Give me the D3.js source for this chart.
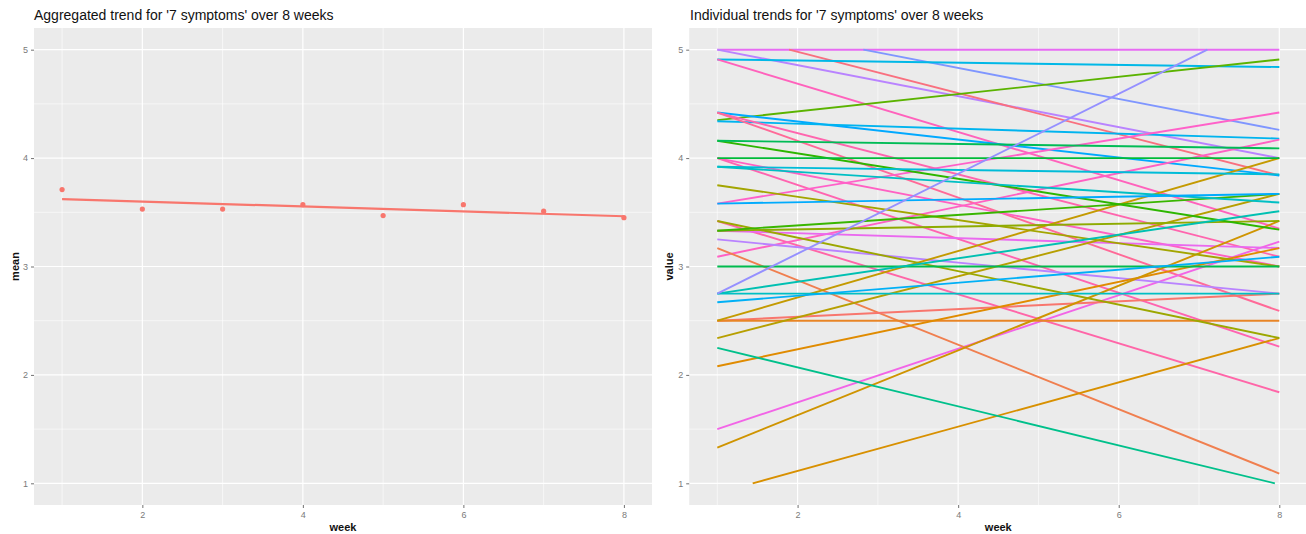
<!DOCTYPE html>
<html>
<head>
<meta charset="utf-8">
<script src="https://cdn.jsdelivr.net/npm/d3@7"></script>
<style>
  html, body { margin: 0; padding: 0; background: #ffffff; }
  svg { display: block; font-family: "Liberation Sans", Arial, sans-serif; }
</style>
</head>
<body>
<svg id="chart" width="1306" height="534"></svg>
<script>
// ---------------- DATA ----------------
const weeks = [1, 2, 3, 4, 5, 6, 7, 8];
const meanValues = [3.71, 3.53, 3.53, 3.57, 3.47, 3.57, 3.51, 3.45];

const xTicks = [2, 4, 6, 8];
const yTicks = [1, 2, 3, 4, 5];

const leftTitle = "Aggregated trend for '7 symptoms' over 8 weeks";
const rightTitle = "Individual trends for '7 symptoms' over 8 weeks";

// fitted value of each individual's trend at week 1 and week 8
const individualStart = [5.00, 5.00, 5.17, 5.26, 4.91, 4.91, 4.35, 4.42, 4.34, 4.42,
                         4.42, 4.00, 4.00, 3.42, 3.58, 3.09, 1.50, 3.33, 3.25, 3.17,
                         2.50, 2.50, 2.08, 0.91, 1.33, 2.34, 2.50, 3.75, 3.42, 3.33,
                         3.33, 4.16, 4.16, 4.00, 3.00, 3.92, 3.92, 3.58, 2.75, 2.75,
                         2.67, 2.75, 2.25];
const individualEnd   = [5.00, 4.00, 3.84, 4.26, 4.84, 3.35, 4.91, 3.84, 4.18, 3.09,
                         2.59, 3.00, 2.26, 1.84, 4.42, 4.17, 3.23, 3.17, 2.75, 1.09,
                         2.75, 2.50, 3.17, 2.34, 3.42, 3.67, 4.00, 3.00, 2.34, 3.42,
                         3.67, 3.34, 4.09, 4.00, 3.00, 3.85, 3.59, 3.67, 3.51, 2.75,
                         3.09, 5.33, 0.99];
const individualColor = ["#E76BF3", "#B983FF", "#F9707F", "#7F96FF", "#00B8E7", "#FF62BC", "#5BB300", "#00A9FF", "#00B4EF", "#FF65AE",
                         "#FF6A98", "#FF61C3", "#FF64B0", "#FF66A8", "#FF61C9", "#FF61C3", "#F265E7", "#EA69EF", "#B983FF", "#F07F4F",
                         "#F8766D", "#E88526", "#E08B00", "#D89000", "#CF9400", "#B79F00", "#C49A00", "#A3A500", "#9CA700", "#8EAB00",
                         "#39B600", "#2DB600", "#00BC56", "#00BA38", "#00BB4E", "#00BCD8", "#00BFC4", "#00ABFD", "#00C0B2", "#00BFC4",
                         "#00B0F6", "#9590FF", "#00C08B"];

// ---------------- LAYOUT ----------------
const svg = d3.select("#chart");
const panelTop = 28, panelBottom = 505;
const panels = [
  { left: 34, right: 652, title: leftTitle, ylab: "mean", ylabX: 19, titleX: 34 },
  { left: 689.2, right: 1307.4, title: rightTitle, ylab: "value", ylabX: 673, titleX: 690 }
];
const xDomain = [0.65, 8.35];
const yDomain = [0.8, 5.2];

function drawPanel(p) {
  const x = d3.scaleLinear().domain(xDomain).range([p.left, p.right]);
  const y = d3.scaleLinear().domain(yDomain).range([panelBottom, panelTop]);
  const g = svg.append("g");
  const clipId = "clip" + Math.round(p.left);
  g.append("clipPath").attr("id", clipId).append("rect")
    .attr("x", p.left).attr("y", panelTop)
    .attr("width", Math.min(p.right, 1306) - p.left).attr("height", panelBottom - panelTop);

  g.append("rect")
    .attr("x", p.left).attr("y", panelTop)
    .attr("width", p.right - p.left).attr("height", panelBottom - panelTop)
    .attr("fill", "#EBEBEB");

  // minor grid
  const xMinor = [1, 3, 5, 7];
  const yMinor = [1.5, 2.5, 3.5, 4.5];
  g.selectAll(".xminor").data(xMinor).enter().append("line")
    .attr("x1", d => x(d)).attr("x2", d => x(d))
    .attr("y1", panelTop).attr("y2", panelBottom)
    .attr("stroke", "#ffffff").attr("stroke-width", 0.6);
  g.selectAll(".yminor").data(yMinor).enter().append("line")
    .attr("x1", p.left).attr("x2", p.right)
    .attr("y1", d => y(d)).attr("y2", d => y(d))
    .attr("stroke", "#ffffff").attr("stroke-width", 0.6);
  // major grid
  g.selectAll(".xmajor").data(xTicks).enter().append("line")
    .attr("x1", d => x(d)).attr("x2", d => x(d))
    .attr("y1", panelTop).attr("y2", panelBottom)
    .attr("stroke", "#ffffff").attr("stroke-width", 1.2);
  g.selectAll(".ymajor").data(yTicks).enter().append("line")
    .attr("x1", p.left).attr("x2", p.right)
    .attr("y1", d => y(d)).attr("y2", d => y(d))
    .attr("stroke", "#ffffff").attr("stroke-width", 1.2);

  // axes
  const ax = g.append("g").attr("transform", `translate(0,${panelBottom})`)
    .call(d3.axisBottom(x).tickValues(xTicks).tickSize(3).tickPadding(3.5).tickFormat(d3.format("d")));
  const ay = g.append("g").attr("transform", `translate(${p.left},0)`)
    .call(d3.axisLeft(y).tickValues(yTicks).tickSize(3).tickPadding(3).tickFormat(d3.format("d")));
  [ax, ay].forEach(a => {
    a.select(".domain").remove();
    a.selectAll(".tick line").attr("stroke", "#4D4D4D").attr("stroke-width", 0.8);
    a.selectAll(".tick text").attr("fill", "#7A7A7A").attr("font-size", 9)
      .attr("font-family", "'Liberation Sans', Arial, sans-serif");
  });

  // titles
  svg.append("text").attr("x", p.titleX).attr("y", 20)
    .attr("font-size", 14).attr("fill", "#111").text(p.title);
  svg.append("text").attr("x", (p.left + p.right) / 2).attr("y", 531)
    .attr("text-anchor", "middle").attr("font-size", 11).attr("font-weight", "bold")
    .attr("fill", "#111").text("week");
  svg.append("text").attr("transform", `translate(${p.ylabX},${(panelTop + panelBottom) / 2}) rotate(-90)`)
    .attr("text-anchor", "middle").attr("font-size", 11).attr("font-weight", "bold")
    .attr("fill", "#111").text(p.ylab);

  return { g, x, y, clipId };
}

// ---------------- LEFT PANEL ----------------
const L = drawPanel(panels[0]);
// least squares fit of the weekly means
const mx = d3.mean(weeks), my = d3.mean(meanValues);
const slope = d3.sum(weeks, (w, i) => (w - mx) * (meanValues[i] - my)) / d3.sum(weeks, w => (w - mx) * (w - mx));
const fit = w => my + slope * (w - mx);
const fitPts = [weeks[0], weeks[weeks.length - 1]].map(w => [w, fit(w)]);
L.g.append("path")
  .attr("d", d3.line().x(d => L.x(d[0])).y(d => L.y(d[1]))(fitPts))
  .attr("fill", "none").attr("stroke", "#F8766D").attr("stroke-width", 2.2);
L.g.selectAll(".pt").data(weeks).enter().append("circle")
  .attr("cx", d => L.x(d)).attr("cy", (d, i) => L.y(meanValues[i]))
  .attr("r", 2.6).attr("fill", "#F8766D");

// ---------------- RIGHT PANEL ----------------
const R = drawPanel(panels[1]);
const lo = 1, hi = 5, w0 = 1, w1 = 8;
const lineGen = d3.line().x(d => R.x(d[0])).y(d => R.y(d[1]));
const segs = individualStart.map((s, i) => {
  const e = individualEnd[i];
  const k = (e - s) / (w1 - w0);
  let a = w0, b = w1;
  const val = w => s + k * (w - w0);
  if (k !== 0) {
    const wHi = w0 + (hi - s) / k, wLo = w0 + (lo - s) / k;
    const wMin = Math.min(wHi, wLo), wMax = Math.max(wHi, wLo);
    a = Math.max(a, wMin); b = Math.min(b, wMax);
  }
  return { pts: [[a, val(a)], [b, val(b)]], color: individualColor[i] };
});
R.g.append("g").attr("clip-path", `url(#${R.clipId})`)
  .selectAll("path").data(segs).enter().append("path")
  .attr("d", d => lineGen(d.pts))
  .attr("fill", "none").attr("stroke", d => d.color).attr("stroke-width", 1.9)
  .attr("stroke-linecap", "butt");
</script>
</body>
</html>
